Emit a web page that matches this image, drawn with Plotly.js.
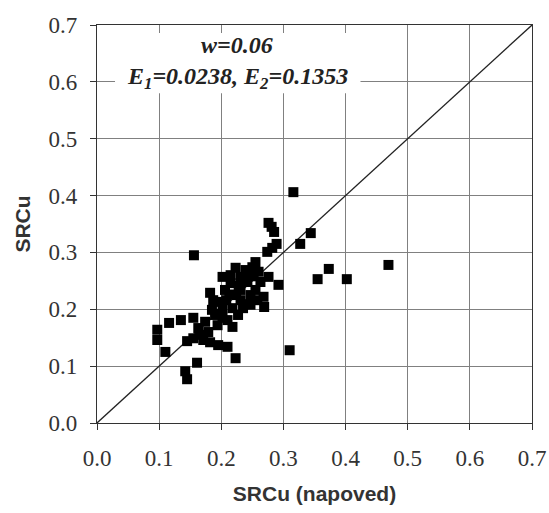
<!DOCTYPE html>
<html>
<head>
<meta charset="utf-8">
<script src="https://cdn.plot.ly/plotly-3.0.1.min.js"></script>
<style>html,body{margin:0;padding:0;background:#fff;}</style>
</head>
<body>
<div id="chart" style="width:549px;height:513px;"></div>
<script>
// Predicted (x) and observed (y) SRCu values
const xPred = [0.316,0.276,0.281,0.285,0.344,0.327,0.289,0.274,0.282,0.255,0.250,0.223,0.469,0.373,0.355,0.402,0.276,0.292,0.268,0.269,
  0.235,0.218,0.310,0.223,0.156,0.116,0.135,0.155,0.097,0.097,0.110,0.142,0.145,0.161,0.145,0.195,0.210,0.218,0.231,0.242,
  0.202,0.215,0.182,0.187,0.166,0.155,0.179,0.194,0.210,0.202,0.195,0.171,0.182,0.231,0.247,0.224,0.206,0.239,0.260,0.190,
  0.174,0.208,0.247,0.227,0.255,0.263,0.185,0.163,0.231,0.215,0.258,0.202,0.228,0.244,0.213,0.198,0.236,0.252];
const yObs = [0.406,0.352,0.345,0.336,0.334,0.315,0.315,0.301,0.308,0.283,0.274,0.273,0.278,0.271,0.253,0.253,0.257,0.243,0.222,0.204,
  0.202,0.202,0.128,0.114,0.295,0.176,0.181,0.185,0.164,0.146,0.125,0.091,0.077,0.106,0.144,0.137,0.134,0.169,0.257,0.248,
  0.257,0.246,0.229,0.216,0.155,0.149,0.160,0.172,0.181,0.202,0.213,0.146,0.142,0.234,0.225,0.225,0.234,0.269,0.266,0.190,
  0.178,0.216,0.208,0.190,0.234,0.248,0.199,0.167,0.216,0.260,0.216,0.185,0.241,0.262,0.226,0.192,0.209,0.258];
const lineX = [0, 0.7];
const lineY = [0, 0.7];
const tickVals = [0,0.1,0.2,0.3,0.4,0.5,0.6,0.7];
const tickText = ['0.0','0.1','0.2','0.3','0.4','0.5','0.6','0.7'];
const xTitle = 'SRCu (napoved)';
const yTitle = 'SRCu';
const note1 = '<b><i>w=0.06</i></b>';
const note2 = '<b><i>E<sub>1</sub>=0.0238, E<sub>2</sub>=0.1353</i></b>';

const traces = [
  {x: lineX, y: lineY, type: 'scatter', mode: 'lines', line: {color: '#222', width: 1.3}, hoverinfo: 'skip'},
  {x: xPred, y: yObs, type: 'scatter', mode: 'markers',
   marker: {symbol: 'square', size: 10, color: '#000'}}
];

const axisCommon = {
  range: [0, 0.7], tickvals: tickVals, ticktext: tickText,
  showgrid: true, gridcolor: '#808080', gridwidth: 1,
  showline: true, linecolor: '#333', linewidth: 1.2, mirror: true,
  ticks: 'outside', ticklen: 6, tickcolor: '#333', tickwidth: 1,
  zeroline: false,
  tickfont: {family: 'Liberation Serif, Times New Roman, serif', size: 23, color: '#333'}
};

const layout = {
  width: 549, height: 513,
  margin: {l: 97, r: 17, t: 25, b: 90},
  paper_bgcolor: '#fff', plot_bgcolor: '#fff',
  showlegend: false,
  xaxis: Object.assign({}, axisCommon, {
    ticklabelstandoff: 8,
    title: {text: xTitle, standoff: 16, font: {family: 'Liberation Sans, Arial, sans-serif', size: 21, color: '#333', weight: 'bold'}}
  }),
  yaxis: Object.assign({}, axisCommon, {
    ticklabelstandoff: 8,
    title: {text: yTitle, standoff: 12, font: {family: 'Liberation Sans, Arial, sans-serif', size: 21, color: '#333', weight: 'bold'}}
  }),
  shapes: [
    {type: 'rect', xref: 'x', yref: 'y', x0: 0.029, x1: 0.424, y0: 0.58, y1: 0.686,
     fillcolor: '#fff', line: {width: 0}, layer: 'above'}
  ],
  annotations: [
    {x: 0.226, y: 0.665, xref: 'x', yref: 'y', text: note1, showarrow: false,
     xanchor: 'center', yanchor: 'middle',
     font: {family: 'Liberation Serif, Times New Roman, serif', size: 24, color: '#222'}},
    {x: 0.226, y: 0.607, xref: 'x', yref: 'y', text: note2, showarrow: false,
     xanchor: 'center', yanchor: 'middle',
     font: {family: 'Liberation Serif, Times New Roman, serif', size: 24, color: '#222'}}
  ]
};

Plotly.newPlot('chart', traces, layout, {displayModeBar: false, staticPlot: true});
</script>
</body>
</html>
